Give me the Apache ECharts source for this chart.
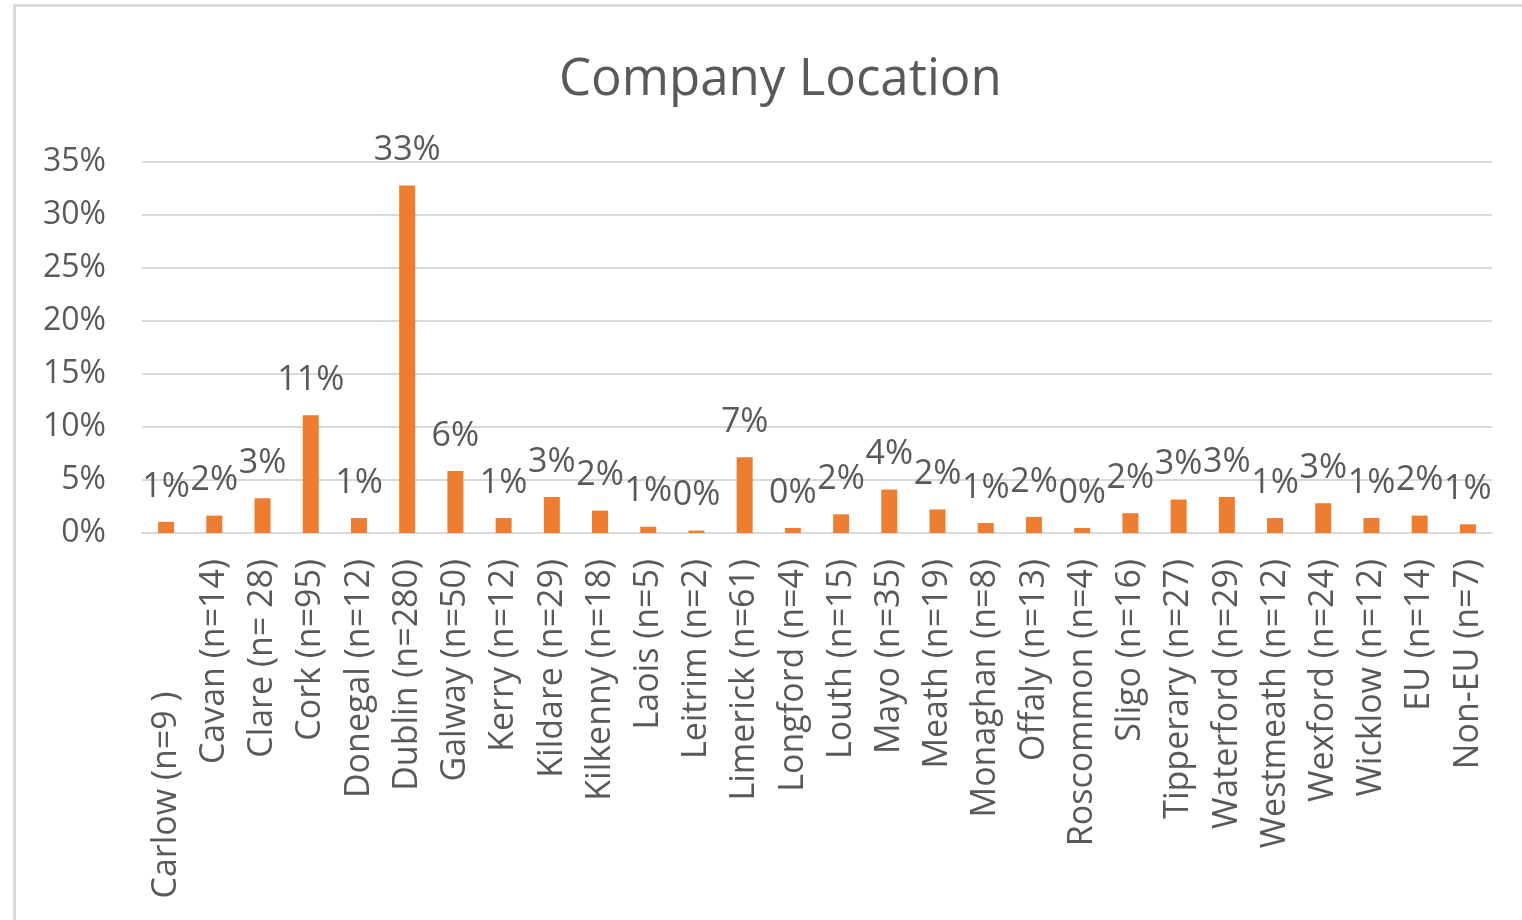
<!DOCTYPE html>
<html>
<head>
<meta charset="utf-8">
<script src="https://cdn.jsdelivr.net/npm/echarts@6/dist/echarts.min.js"></script>
<style>
  html, body { margin: 0; padding: 0; background: #fff; }
  #main { width: 1522px; height: 920px; }
</style>
</head>
<body>
<div id="main"></div>
<script>
// categories with their counts, and the share (%) of each
// (the Carlow label carries trailing spaces in the source, so it sits lower)
const categories = [
    'Carlow (n=9 )               ', 'Cavan (n=14)', 'Clare (n= 28)', 'Cork (n=95)', 'Donegal (n=12)',
    'Dublin (n=280)', 'Galway (n=50)', 'Kerry (n=12)', 'Kildare (n=29)', 'Kilkenny (n=18)',
    'Laois (n=5)', 'Leitrim (n=2)', 'Limerick (n=61)', 'Longford (n=4)', 'Louth (n=15)',
    'Mayo (n=35)', 'Meath (n=19)', 'Monaghan (n=8)', 'Offaly (n=13)', 'Roscommon (n=4)',
    'Sligo (n=16)', 'Tipperary (n=27)', 'Waterford (n=29)', 'Westmeath (n=12)', 'Wexford (n=24)',
    'Wicklow (n=12)', 'EU (n=14)', 'Non-EU (n=7)'
];
const shares = [
    1.05, 1.64, 3.28, 11.12, 1.41,
    32.79, 5.85, 1.41, 3.40, 2.11,
    0.59, 0.23, 7.14, 0.47, 1.76,
    4.10, 2.22, 0.94, 1.52, 0.47,
    1.87, 3.16, 3.40, 1.41, 2.81,
    1.41, 1.64, 0.82
];
const yTicks = [0, 5, 10, 15, 20, 25, 30, 35];

const font = '"Open Sans", "Noto Sans", sans-serif';
const textColor = '#595959';

const option = {
    animation: false,
    title: {
        text: 'Company Location',
        left: 554,
        top: 50,
        textStyle: { fontFamily: font, fontSize: 51, fontWeight: 'normal', color: textColor }
    },
    graphic: [{
        type: 'rect',
        shape: { x: 14.5, y: 5.5, width: 1600, height: 1000 },
        style: { fill: 'none', stroke: '#d9d9d9', lineWidth: 3 },
        silent: true
    }],
    grid: { left: 142, right: 30, top: 162, bottom: 387 },
    xAxis: {
        type: 'category',
        data: categories,
        axisLine: { lineStyle: { color: '#d9d9d9', width: 2 } },
        axisTick: { show: false },
        axisLabel: {
            interval: 0,
            rotate: 90,
            margin: 26,
            fontFamily: font,
            fontSize: 34,
            color: textColor
        }
    },
    yAxis: {
        type: 'value',
        min: yTicks[0],
        max: yTicks[yTicks.length - 1],
        interval: 5,
        axisLine: { show: false },
        axisTick: { show: false },
        splitLine: { lineStyle: { color: '#d9d9d9', width: 2 } },
        axisLabel: {
            formatter: '{value}%',
            margin: 36,
            fontFamily: font,
            fontSize: 32,
            color: textColor
        }
    },
    series: [{
        type: 'bar',
        data: shares,
        barWidth: 16,
        itemStyle: { color: '#ed7d31' },
        label: {
            show: true,
            position: 'top',
            distance: 18,
            formatter: p => Math.round(p.value) + '%',
            fontFamily: font,
            fontSize: 34,
            color: textColor
        }
    }]
};

const myChart = echarts.init(document.getElementById('main'));
myChart.setOption(option);
</script>
</body>
</html>
